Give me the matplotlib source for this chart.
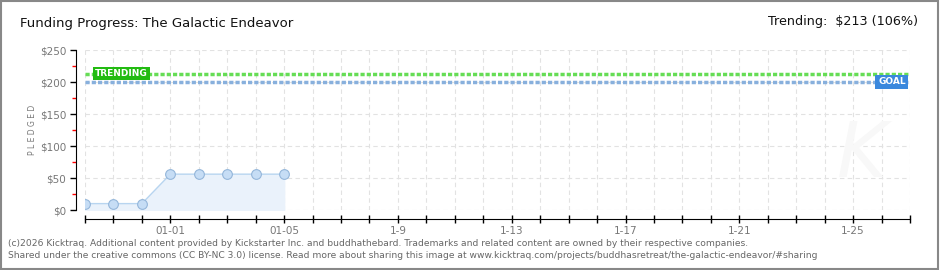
import numpy as np
import matplotlib.pyplot as plt
from matplotlib.patches import Rectangle

# data
days = np.arange(30)  # Dec 29 .. Jan 27
day_labels = ['', '', '', '01-01', '', '', '', '01-05', '', '', '', '1-9', '', '', '',
              '1-13', '', '', '', '1-17', '', '', '', '1-21', '', '', '', '1-25', '', '']
pledged_days = [0, 1, 2, 3, 4, 5, 6, 7]
pledged = [10, 10, 10, 56, 56, 56, 56, 56]
goal = 200
trending = 213
trending_pct = 106

fig = plt.figure(figsize=(9.4, 2.7), dpi=100)
fig.patch.set_facecolor('white')
fig.add_artist(Rectangle((0.001, 0.002), 0.997, 0.995, transform=fig.transFigure,
                         fill=False, edgecolor='#888888', lw=1.5))

ax = fig.add_axes([85 / 940, 60 / 270, 825 / 940, 160 / 270])
ax.set_xlim(0, 29)
ax.set_ylim(0, 250)

# grid
for d in days:
    ax.axvline(d, color='#e2e2e2', lw=0.8, ls=(0, (4, 3)), zorder=0)
for v in range(0, 251, 50):
    ax.axhline(v, color='#e2e2e2', lw=0.8, ls=(0, (4, 3)), zorder=0)

# pledged series
ax.fill_between(pledged_days, pledged, 0, color='#eaf2fb', zorder=1)
ax.plot(pledged_days, pledged, color='#b8d5f0', lw=1, zorder=2)
ax.plot(pledged_days, pledged, 'o', ms=7, mfc='#c6ddf5', mec='#94b6da', mew=0.8, zorder=3)

# trending and goal lines
ax.axhline(trending, color='#66dd55', lw=2.5, ls=(0, (1.2, 0.6)), zorder=2)
ax.axhline(goal, color='#88b0dd', lw=2.5, ls=(0, (1.2, 0.6)), zorder=2)
ax.text(0.35, trending, 'TRENDING', color='white', fontsize=6.5, fontweight='bold',
        va='center', ha='left', zorder=5,
        bbox=dict(boxstyle='square,pad=0.25', fc='#22bb11', ec='none'))
ax.text(28.85, goal, 'GOAL', color='white', fontsize=6.5, fontweight='bold',
        va='center', ha='right', zorder=5,
        bbox=dict(boxstyle='square,pad=0.3', fc='#3a88dd', ec='none'))

# watermark
ax.text(27.3, 85, 'K', fontsize=55, color='#f8f8f8', style='italic',
        ha='center', va='center', zorder=0)

# axes styling
for s in ['top', 'right']:
    ax.spines[s].set_visible(False)
ax.spines['left'].set_position(('outward', 6.5))
ax.spines['bottom'].set_position(('outward', 6.5))
ax.set_yticks(range(0, 251, 50))
ax.set_yticklabels([f'${v}' for v in range(0, 251, 50)], color='#777777', fontsize=7.5)
ax.set_yticks(range(25, 250, 50), minor=True)
ax.tick_params(axis='y', which='major', direction='out', length=4, width=1, color='black', pad=3)
ax.tick_params(axis='y', which='minor', direction='out', length=3, width=1, color='red')
ax.set_xticks(days)
ax.set_xticklabels(day_labels, color='#777777', fontsize=7.5)
ax.tick_params(axis='x', direction='inout', length=6, width=1, color='black', pad=2)
ax.set_ylabel('P L E D G E D', color='#777777', fontsize=5.5, labelpad=2)

fig.text(20 / 940, 1 - 24 / 270, 'Funding Progress: The Galactic Endeavor',
         fontsize=9.5, color='#111111', va='center')
fig.text(918 / 940, 1 - 22 / 270, f'Trending:  ${trending} ({trending_pct}%)',
         fontsize=9.2, color='#111111', va='center', ha='right')
fig.text(8 / 940, 1 - 243 / 270,
         '(c)2026 Kicktraq. Additional content provided by Kickstarter Inc. and buddhathebard. '
         'Trademarks and related content are owned by their respective companies.',
         fontsize=6.6, color='#666666', va='center')
fig.text(8 / 940, 1 - 255 / 270,
         'Shared under the creative commons (CC BY-NC 3.0) license. Read more about sharing this image at '
         'www.kicktraq.com/projects/buddhasretreat/the-galactic-endeavor/#sharing',
         fontsize=6.6, color='#666666', va='center')

fig.savefig('out.png', dpi=100)
